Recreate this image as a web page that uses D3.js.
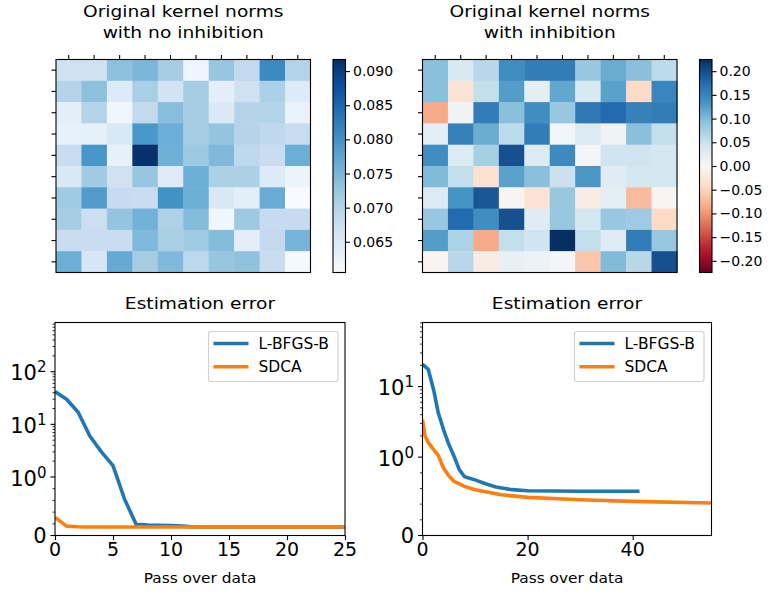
<!DOCTYPE html>
<html><head><meta charset="utf-8">
<script src="https://cdn.jsdelivr.net/npm/d3@7"></script>
<style>body{margin:0;background:#fff}svg{font-family:"DejaVu Sans",sans-serif}</style>
</head><body><svg id="fig" width="773" height="594"></svg>
<script>
// ---------- data ----------
const normsNoInhib = [
 [0.0667,0.0667,0.0736,0.0749,0.0714,0.0621,0.0727,0.0686,0.0808,0.0702],
 [0.0699,0.0736,0.0646,0.0711,0.0664,0.0714,0.0636,0.0667,0.0708,0.0646],
 [0.0636,0.0699,0.0617,0.0686,0.0739,0.0714,0.0649,0.0699,0.0702,0.0627],
 [0.0630,0.0633,0.0652,0.0792,0.0761,0.0714,0.0730,0.0699,0.0689,0.0680],
 [0.0680,0.0795,0.0633,0.0917,0.0758,0.0722,0.0745,0.0689,0.0677,0.0761],
 [0.0652,0.0720,0.0667,0.0727,0.0642,0.0761,0.0708,0.0708,0.0646,0.0624],
 [0.0720,0.0786,0.0683,0.0677,0.0800,0.0761,0.0652,0.0636,0.0764,0.0605],
 [0.0714,0.0674,0.0730,0.0755,0.0705,0.0742,0.0617,0.0722,0.0683,0.0683],
 [0.0677,0.0677,0.0677,0.0745,0.0711,0.0720,0.0742,0.0636,0.0686,0.0752],
 [0.0761,0.0655,0.0767,0.0716,0.0745,0.0692,0.0727,0.0733,0.0680,0.0611]
];
const normsInhib = [
 [0.0943,0.0359,0.0629,0.1393,0.1572,0.1572,0.0853,0.1123,0.0943,0.0584],
 [0.0943,-0.0314,0.0539,0.1258,0.0225,0.1168,0.0359,0.1213,-0.0449,0.1482],
 [-0.0853,0.009,0.1572,0.0943,0.1393,0.0853,0.1617,0.1752,0.1527,0.1572],
 [0.0225,0.1527,0.1123,0.0584,0.1572,0.0045,0.0314,0.009,0.0943,0.0539],
 [0.1393,0.0314,0.0764,0.1976,0.0314,0.1437,0.0045,0.0449,0.0449,0.0404],
 [0.0988,0.0539,-0.0359,0.1213,0.0943,0.0494,0.1303,0.027,0.0404,0.0404],
 [0.0314,0.1348,0.1932,-0.0045,-0.0314,0.0853,-0.018,0.0225,-0.0719,-0.0045],
 [0.0853,0.1752,0.1393,0.1976,0.027,0.0853,0.0404,0.0853,0.0809,-0.0449],
 [0.1258,0.0719,-0.0853,0.0539,0.0449,0.2246,0.0539,0.027,0.1572,0.0853],
 [-0.0045,0.0629,-0.018,0.018,0.0135,0.0045,-0.0629,0.0988,0.0629,0.1976]
];
const cbTicksLeft = [0.065,0.070,0.075,0.080,0.085,0.090];
const cbTicksRight = [-0.20,-0.15,-0.10,-0.05,0.00,0.05,0.10,0.15,0.20];

const seriesNames = ["L-BFGS-B","SDCA"];
// left: no inhibition
const lbfgsX1 = [0,1,2,3,4,5,6,7,8,9,10,11,12,15,20,25];
const lbfgsY1 = [42,30,17,6.0,3.0,1.65,0.62,0.19,0.18,0.175,0.17,0.16,0.145,0.145,0.145,0.145];
const sdcaX1 = [0,1,2,3,5,10,15,20,25];
const sdcaY1 = [0.31,0.16,0.15,0.145,0.145,0.145,0.145,0.145,0.145];
// right: with inhibition
const lbfgsX2 = [0,1.1,2.1,3,4,4.9,6,7,8,10,12,14,17,20,25,30,35,41.3];
const lbfgsY2 = [20.7,17.5,9.1,4.25,2.46,1.59,1.03,0.84,0.75,0.71,0.66,0.62,0.585,0.57,0.567,0.565,0.565,0.565];
const sdcaX2 = [0,0.5,1.1,2,3,4,5,6,8,10,15,20,30,40,55];
const sdcaY2 = [3.42,1.98,1.62,1.31,1.06,0.862,0.763,0.69,0.627,0.584,0.52,0.486,0.456,0.435,0.414];
const xTicks1 = [0,5,10,15,20,25];
const xTicks2 = [0,20,40];
const yMajor = [0,1,10,100];

const bluesColors = ['#f7fbff','#deebf7','#c6dbef','#9ecae1','#6baed6','#4292c6','#2171b5','#08519c','#08306b'];
const rdbuColors = ['#67001f','#b2182b','#d6604d','#f4a582','#fddbc7','#f7f7f7','#d1e5f0','#92c5de','#4393c3','#2166ac','#053061'];
const lineColors = ['#1f77b4','#ff7f0e'];

// ---------- drawing ----------
const svg = d3.select('#fig');
const FONT = '"DejaVu Sans", sans-serif';
const minus = s => s.replace('-', '\u2212');

// text with optional horizontal stretch
function txt(parent, x, y, s, size, anchor, sx){
  const g = parent.append('g').attr('transform', `translate(${x},${y}) scale(${sx||1},1)`);
  return g.append('text').attr('x', 0).attr('y', 0).attr('text-anchor', anchor || 'start')
    .attr('font-size', size).attr('font-family', FONT).attr('fill', '#000').text(s);
}

function cmap(colors, vmin, vmax){
  const n = colors.length;
  return d3.scaleLinear().domain(d3.range(n).map(i => vmin + i*(vmax-vmin)/(n-1))).range(colors).interpolate(d3.interpolateRgb).clamp(true);
}

function heatmap(opt){
  const {data, x0, x1, y0, y1, color, title, cbX, cbTicks, cbFmt, vmin, vmax, gid} = opt;
  const g = svg.append('g');
  const cols = d3.range(10), rows = d3.range(10);
  const xs = d3.scaleBand().domain(cols).range([x0, x1]);
  const ys = d3.scaleBand().domain(rows).range([y0, y1]);
  data.forEach((row, r) => row.forEach((v, c) => {
    g.append('rect').attr('x', xs(c)).attr('y', ys(r)).attr('width', xs.bandwidth()+0.5).attr('height', ys.bandwidth()+0.5).attr('fill', color(v));
  }));
  g.append('rect').attr('x', x0).attr('y', y0).attr('width', x1-x0).attr('height', y1-y0).attr('fill','none').attr('stroke','#000').attr('stroke-width',1.1);
  cols.forEach(c => g.append('line').attr('x1', xs(c)+xs.bandwidth()/2).attr('x2', xs(c)+xs.bandwidth()/2).attr('y1', y0).attr('y2', y0-4.5).attr('stroke','#000').attr('stroke-width',1.1));
  rows.forEach(r => g.append('line').attr('y1', ys(r)+ys.bandwidth()/2).attr('y2', ys(r)+ys.bandwidth()/2).attr('x1', x0).attr('x2', x0-4.5).attr('stroke','#000').attr('stroke-width',1.1));
  const tx = (x0+x1)/2;
  txt(g, tx, 17, title[0], 16.5, 'middle', 1.13);
  txt(g, tx, 37.5, title[1], 16.5, 'middle', 1.13);
  // colorbar
  const cbW = 12.5;
  const grad = svg.append('defs').append('linearGradient').attr('id', gid).attr('x1',0).attr('y1',1).attr('x2',0).attr('y2',0);
  d3.range(0, 1.0001, 0.02).forEach(t => grad.append('stop').attr('offset', t).attr('stop-color', color(vmin + t*(vmax-vmin))));
  g.append('rect').attr('x', cbX).attr('y', y0).attr('width', cbW).attr('height', y1-y0).attr('fill', `url(#${gid})`).attr('stroke','#000').attr('stroke-width',1.1);
  const cs = d3.scaleLinear().domain([vmin, vmax]).range([y1, y0]);
  const ax = d3.axisRight(cs).tickValues(cbTicks).tickSize(4.5).tickFormat(() => '');
  const ag = g.append('g').attr('transform', `translate(${cbX+cbW},0)`).call(ax);
  ag.select('.domain').remove();
  ag.selectAll('line').attr('stroke','#000').attr('stroke-width',1.1);
  cbTicks.forEach(t => txt(g, cbX+cbW+7.5, cs(t)+5, minus(d3.format(cbFmt)(t)), 14, 'start', 1));
}

const lVals = normsNoInhib.flat();
const [lmin, lmax] = d3.extent(lVals);
heatmap({data: normsNoInhib, x0: 56, x1: 310.5, y0: 59.5, y1: 272.5, color: cmap(bluesColors, lmin, lmax),
  title: ['Original kernel norms','with no inhibition'], cbX: 333, cbTicks: cbTicksLeft, cbFmt: '.3f', vmin: lmin, vmax: lmax, gid: 'gl'});
const rAbs = d3.max(normsInhib.flat(), d => Math.abs(d));
heatmap({data: normsInhib, x0: 422.5, x1: 677, y0: 59.5, y1: 272.5, color: cmap(rdbuColors, -rAbs, rAbs),
  title: ['Original kernel norms','with inhibition'], cbX: 699.5, cbTicks: cbTicksRight, cbFmt: '.2f', vmin: -rAbs, vmax: rAbs, gid: 'gr'});

// symlog (matplotlib style, linthresh=1, linscale=1, base 10)
const LA = 1/(1-1/10);
const symT = v => v <= 1 ? v*LA : LA + Math.log10(v);

function linePlot(opt){
  const {x0, x1, y0, y1, xMax, yTop, xTicks, series, legX} = opt;
  const g = svg.append('g');
  const xs = d3.scaleLinear().domain([0, xMax]).range([x0, x1]);
  const ts = d3.scaleLinear().domain([0, symT(yTop)]).range([y1, y0]);
  const ys = v => ts(symT(v));
  const clipId = 'c' + Math.round(x0);
  svg.append('defs').append('clipPath').attr('id', clipId).append('rect').attr('x', x0).attr('y', y0).attr('width', x1-x0).attr('height', y1-y0);
  const line = d3.line().x(d => xs(d[0])).y(d => ys(d[1]));
  series.forEach((s, i) => {
    g.append('path').attr('d', line(s.x.map((x, k) => [x, s.y[k]]))).attr('fill','none').attr('stroke', lineColors[i])
      .attr('stroke-width', 3.6).attr('stroke-linejoin','round').attr('stroke-linecap','butt').attr('clip-path', `url(#${clipId})`);
  });
  g.append('rect').attr('x', x0).attr('y', y0).attr('width', x1-x0).attr('height', y1-y0).attr('fill','none').attr('stroke','#000').attr('stroke-width',1.1);
  // x axis
  const xa = d3.axisBottom(xs).tickValues(xTicks).tickSize(4.5).tickFormat(() => '');
  const xg = g.append('g').attr('transform', `translate(0,${y1})`).call(xa);
  xg.select('.domain').remove();
  xg.selectAll('line').attr('stroke','#000').attr('stroke-width',1.1);
  xTicks.forEach(t => txt(g, xs(t), y1+20, d3.format('d')(t), 19, 'middle', 1));
  // y minor ticks
  const minors = [0.2,0.4,0.6,0.8];
  [1,10,100].forEach(d => d3.range(2,10).forEach(m => { if (d*m <= yTop) minors.push(d*m); }));
  minors.forEach(v => g.append('line').attr('x1', x0).attr('x2', x0-2.5).attr('y1', ys(v)).attr('y2', ys(v)).attr('stroke','#000').attr('stroke-width',0.8));
  yMajor.filter(v => v <= yTop).forEach(v => {
    const y = ys(v);
    g.append('line').attr('x1', x0).attr('x2', x0-4.5).attr('y1', y).attr('y2', y).attr('stroke','#000').attr('stroke-width',1.1);
    if (v === 0) {
      txt(g, x0-8.5, y+7.5, '0', 21, 'end', 1);
    } else {
      const t = txt(g, x0-8.5, y+8.5, '', 21, 'end', 1);
      t.append('tspan').text('10');
      t.append('tspan').attr('font-size', 15).attr('dy', -8).text(String(Math.round(Math.log10(v))));
    }
  });
  txt(g, (x0+x1)/2, 308.5, 'Estimation error', 16.5, 'middle', 1.13);
  txt(g, (x0+x1)/2, 583, 'Pass over data', 14.8, 'middle', 1.04);
  // legend
  const lg = g.append('g');
  lg.append('rect').attr('x', legX).attr('y', 331.5).attr('width', 129.5).attr('height', 50).attr('rx', 2.5)
    .attr('fill','#fff').attr('fill-opacity',0.8).attr('stroke','#d0d0d0').attr('stroke-width',1.1);
  seriesNames.forEach((n, i) => {
    const yy = 343.5 + i*23.3;
    lg.append('line').attr('x1', legX+5).attr('x2', legX+40).attr('y1', yy).attr('y2', yy).attr('stroke', lineColors[i]).attr('stroke-width', 3.6);
    txt(lg, legX+50, yy+5.5, n, 15.2, 'start', 1.02);
  });
}

linePlot({x0: 55, x1: 345, y0: 322.5, y1: 535.5, xMax: 25, yTop: 860, xTicks: xTicks1, legX: 208.5,
  series: [{x: lbfgsX1, y: lbfgsY1}, {x: sdcaX1, y: sdcaY1}]});
linePlot({x0: 422.5, x1: 711.5, y0: 322.5, y1: 535.5, xMax: 55, yTop: 81, xTicks: xTicks2, legX: 574.5,
  series: [{x: lbfgsX2, y: lbfgsY2}, {x: sdcaX2, y: sdcaY2}]});
</script></body></html>
